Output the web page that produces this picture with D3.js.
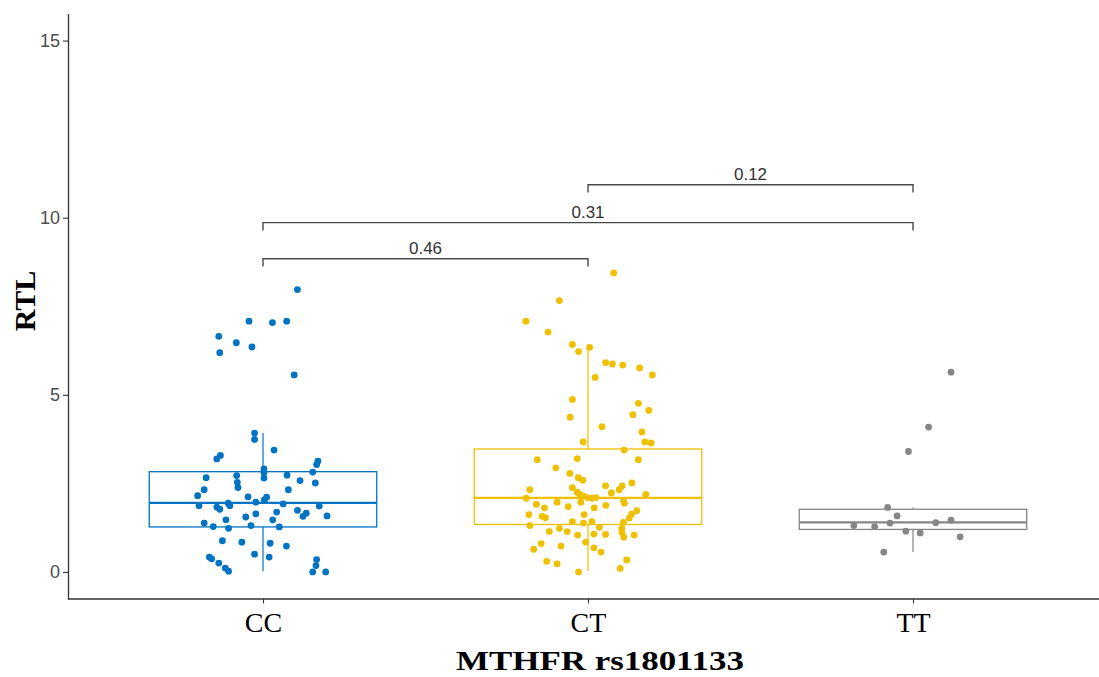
<!DOCTYPE html>
<html>
<head>
<meta charset="utf-8">
<script src="https://cdn.jsdelivr.net/npm/d3@7/dist/d3.min.js"></script>
<style>
  html, body { margin: 0; padding: 0; background: #fff; }
  svg { display: block; }
</style>
</head>
<body>
<svg id="chart" width="1099" height="677"></svg>
<script>
// Genotype groups and palette
const groups = ["CC", "CT", "TT"];
const groupColors = ["#0073C2", "#EFC000", "#868686"];

// Box statistics per group: lower whisker, Q1, median, Q3, upper whisker
const whiskerLow  = [0.02, 0.02, 0.56];
const q1          = [1.27, 1.34, 1.20];
const median      = [1.95, 2.09, 1.40];
const q3          = [2.83, 3.47, 1.77];
const whiskerHigh = [3.92, 6.36, 1.82];

// Individual RTL observations per group, with horizontal jitter (in category units)
const ccValues = [7.97,7.08,7.04,7.08,6.65,6.47,6.35,6.19,5.56,3.92,3.74,3.44,3.19,3.29,3.13,3.03,2.91,2.80,2.65,2.82,2.66,2.72,2.53,2.38,2.73,2.58,2.51,2.32,2.32,2.15,2.12,2.11,2.03,1.97,1.94,1.92,1.87,1.87,1.83,1.77,1.86,1.74,1.69,1.64,1.66,1.57,1.58,1.55,1.47,1.47,1.38,1.28,1.23,1.31,1.27,0.88,0.84,0.81,0.73,0.50,0.42,0.42,0.37,0.25,0.11,0.02,0.35,0.18,0.00,0.00];
const ccJitter = [0.106,-0.043,0.029,0.073,-0.136,-0.082,-0.034,-0.133,0.096,-0.026,-0.026,0.034,-0.142,-0.131,0.169,0.165,0.003,0.003,0.003,0.153,-0.175,-0.081,-0.079,-0.077,0.074,0.114,0.161,-0.181,0.078,-0.201,-0.046,0.011,0.004,-0.022,-0.107,0.062,-0.197,-0.102,-0.142,-0.133,0.173,0.106,0.042,-0.022,0.133,0.123,0.197,-0.053,-0.114,0.030,-0.181,-0.153,-0.106,-0.037,0.050,-0.125,-0.065,0.022,0.072,-0.026,0.019,-0.165,-0.158,-0.136,-0.116,-0.106,0.165,0.163,0.153,0.193];

const ctValues = [8.44,7.66,7.08,6.77,6.42,6.22,6.34,5.91,5.87,5.84,5.76,5.56,5.49,4.87,4.37,4.76,4.44,4.56,4.10,3.95,3.67,3.64,3.67,3.44,3.17,3.20,3.17,2.94,2.78,2.66,2.59,2.51,2.43,2.43,2.32,2.32,2.38,2.25,2.19,2.23,2.19,2.14,2.10,2.08,2.10,2.08,1.97,1.97,2.00,1.94,1.91,1.81,1.84,1.81,1.88,1.73,1.63,1.62,1.57,1.53,1.62,1.52,1.42,1.38,1.42,1.40,1.31,1.23,1.26,1.23,1.14,1.14,1.04,1.07,1.06,1.12,0.98,1.04,0.80,0.73,0.84,0.68,0.56,0.64,0.30,0.23,0.34,0.10,0.00];
const ctJitter = [0.079,-0.088,-0.191,-0.123,-0.048,-0.029,0.005,0.054,0.075,0.107,0.159,0.198,0.022,-0.048,-0.055,0.155,0.138,0.187,0.043,0.166,0.175,0.194,-0.015,0.111,-0.156,-0.033,0.155,-0.099,-0.056,-0.030,-0.016,0.135,0.054,0.105,0.096,-0.179,-0.048,-0.033,-0.025,0.072,0.178,-0.014,-0.001,0.012,0.024,-0.190,-0.095,-0.022,0.109,0.112,-0.159,-0.134,-0.061,0.019,0.055,0.150,0.134,-0.182,-0.141,-0.131,-0.012,0.127,-0.048,-0.014,0.012,0.109,-0.179,-0.088,0.035,0.104,-0.119,-0.064,-0.032,0.018,0.054,0.104,0.110,0.142,-0.144,-0.083,-0.007,0.018,0.040,-0.167,-0.127,-0.095,0.119,0.099,-0.029];

const ttValues = [5.64,4.09,3.40,1.82,1.58,1.38,1.31,1.28,1.15,1.10,1.39,1.46,0.99,0.56];
const ttJitter = [0.117,0.048,-0.014,-0.078,-0.049,-0.071,-0.182,-0.118,-0.022,0.022,0.070,0.117,0.145,-0.090];

// Pairwise comparison brackets: from group, to group, bracket height (RTL units), p-value label
const bracketFrom   = ["CC", "CC", "CT"];
const bracketTo     = ["CT", "TT", "TT"];
const bracketHeight = [8.84, 9.86, 10.93];
const bracketLabel  = ["0.46", "0.31", "0.12"];

// Y axis ticks
const yTicks = [0, 5, 10, 15];

// ---------------------------------------------------------------
const svg = d3.select("#chart");
const panel = { left: 68, top: 14, bottom: 598.5, right: 1108 };

const x = d3.scalePoint()
  .domain(groups)
  .range([panel.left, panel.right])
  .padding(0.6);
const step = x.step();

const y = d3.scaleLinear()
  .domain([-0.75, 15.75])
  .range([panel.bottom, panel.top]);

const color = d3.scaleOrdinal().domain(groups).range(groupColors);

const pointSets = [
  { g: "CC", v: ccValues, j: ccJitter },
  { g: "CT", v: ctValues, j: ctJitter },
  { g: "TT", v: ttValues, j: ttJitter }
];

// Boxplots
const boxHalf = 0.35 * step;
const boxes = svg.append("g").attr("class", "boxes");
groups.forEach((g, i) => {
  const cx = x(g);
  const c = color(g);
  const gb = boxes.append("g").attr("stroke", c).attr("fill", "none");
  gb.append("line")
    .attr("x1", cx).attr("x2", cx)
    .attr("y1", y(whiskerHigh[i])).attr("y2", y(q3[i]))
    .attr("stroke-width", 1.2);
  gb.append("line")
    .attr("x1", cx).attr("x2", cx)
    .attr("y1", y(q1[i])).attr("y2", y(whiskerLow[i]))
    .attr("stroke-width", 1.2);
  gb.append("rect")
    .attr("x", cx - boxHalf).attr("y", y(q3[i]))
    .attr("width", 2 * boxHalf).attr("height", y(q1[i]) - y(q3[i]))
    .attr("fill", "#fff").attr("fill-opacity", 0)
    .attr("stroke-width", 1.3);
  gb.append("line")
    .attr("x1", cx - boxHalf).attr("x2", cx + boxHalf)
    .attr("y1", y(median[i])).attr("y2", y(median[i]))
    .attr("stroke-width", 2.4);
});

// Jittered observations
const pts = svg.append("g").attr("class", "points");
pointSets.forEach(set => {
  pts.selectAll(null)
    .data(set.v.map((v, k) => ({ v, j: set.j[k] })))
    .join("circle")
    .attr("cx", d => x(set.g) + d.j * step)
    .attr("cy", d => y(d.v))
    .attr("r", 3.4)
    .attr("fill", color(set.g));
});

// Comparison brackets
const tickDrop = 0.22;
const br = svg.append("g").attr("class", "brackets");
bracketLabel.forEach((lab, i) => {
  const x1 = x(bracketFrom[i]), x2 = x(bracketTo[i]);
  const yy = y(bracketHeight[i]);
  const yd = y(bracketHeight[i] - tickDrop);
  br.append("path")
    .attr("d", `M${x1},${yd}V${yy}H${x2}V${yd}`)
    .attr("fill", "none")
    .attr("stroke", "#4a4a4a")
    .attr("stroke-width", 1.4);
  br.append("text")
    .attr("x", (x1 + x2) / 2)
    .attr("y", yy - 5)
    .attr("text-anchor", "middle")
    .attr("font-family", "Liberation Sans, Arial, sans-serif")
    .attr("font-size", 17)
    .attr("fill", "#333")
    .text(lab);
});

// Axes
const yAxis = d3.axisLeft(y).tickValues(yTicks).tickSize(5).tickPadding(3);
const gy = svg.append("g")
  .attr("transform", `translate(${panel.left},0)`)
  .call(yAxis);
gy.select(".domain").remove();
gy.append("line")
  .attr("x1", 0.5).attr("x2", 0.5)
  .attr("y1", panel.top).attr("y2", panel.bottom + 1)
  .attr("stroke", "#333").attr("stroke-width", 1.3);
gy.selectAll(".tick line").attr("stroke", "#333").attr("stroke-width", 1.1);
gy.selectAll(".tick text")
  .attr("font-family", "Liberation Sans, Arial, sans-serif")
  .attr("font-size", 18)
  .attr("fill", "#4D4D4D");

const xAxis = d3.axisBottom(x).tickSize(5).tickPadding(9);
const gx = svg.append("g")
  .attr("transform", `translate(0,${panel.bottom})`)
  .call(xAxis);
gx.select(".domain").remove();
gx.append("line")
  .attr("x1", panel.left).attr("x2", 1099)
  .attr("y1", 0.5).attr("y2", 0.5)
  .attr("stroke", "#333").attr("stroke-width", 1.3);
gx.selectAll(".tick line").attr("stroke", "#333").attr("stroke-width", 1.1);
gx.selectAll(".tick text")
  .attr("font-family", "Liberation Serif, Times New Roman, serif")
  .attr("font-size", 28)
  .attr("fill", "#000");

// Axis titles
svg.append("text")
  .attr("x", 600)
  .attr("y", 670)
  .attr("text-anchor", "middle")
  .attr("font-family", "Liberation Serif, Times New Roman, serif")
  .attr("font-weight", "bold")
  .attr("font-size", 28)
  .attr("textLength", 288)
  .attr("lengthAdjust", "spacingAndGlyphs")
  .text("MTHFR rs1801133");

svg.append("text")
  .attr("transform", "translate(35,301) rotate(-90)")
  .attr("text-anchor", "middle")
  .attr("font-family", "Liberation Serif, Times New Roman, serif")
  .attr("font-weight", "bold")
  .attr("font-size", 30)
  .text("RTL");
</script>
</body>
</html>
